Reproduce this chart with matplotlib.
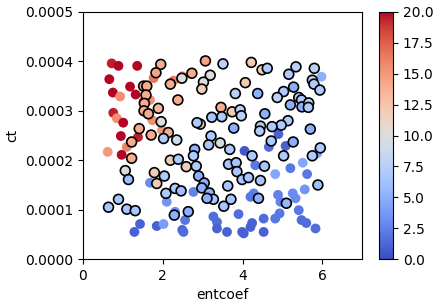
import numpy as np
import matplotlib
matplotlib.use("Agg")
import matplotlib.pyplot as plt

# points drawn without edge
x_plain = [0.72, 0.89, 1.36, 0.66, 1.18, 0.75, 0.93, 1.32, 1.52, 0.76, 0.85, 1.01,
           0.95, 1.38, 1.10, 0.97, 0.62, 1.77, 2.27, 2.49, 1.68, 1.74, 1.98,
           1.68, 2.10, 2.31, 1.43, 1.29, 1.85, 2.02, 2.49, 2.77, 2.56, 2.52, 3.27,
           3.36, 3.36, 3.61, 3.90, 4.03, 4.20, 4.24, 4.53, 4.53, 4.82, 4.93, 5.41,
           5.48, 5.60, 5.83, 3.99, 4.05, 4.32, 4.66, 4.90, 5.08, 5.98, 5.87, 5.51,
           5.20, 4.82, 5.62, 5.56, 4.89, 5.26, 5.33, 4.95, 4.28, 4.20]
y_plain = [3.96e-4, 3.91e-4, 3.91e-4, 3.64e-4, 3.49e-4, 3.37e-4, 3.29e-4, 3.33e-4,
           3.18e-4, 2.96e-4, 2.85e-4, 2.76e-4, 2.49e-4, 2.47e-4, 2.27e-4, 2.11e-4,
           2.17e-4, 3.66e-4, 3.61e-4, 3.70e-4, 3.22e-4, 2.81e-4, 2.61e-4,
           1.545e-4, 1.16e-4, 0.957e-4, 0.71e-4, 0.55e-4, 0.67e-4, 0.71e-4, 0.59e-4,
           1.36e-4, 0.79e-4, 0.55e-4, 0.86e-4, 0.75e-4, 0.62e-4, 0.55e-4, 0.91e-4,
           0.52e-4, 0.65e-4, 0.73e-4, 0.82e-4, 0.55e-4, 0.82e-4, 0.925e-4, 0.99e-4,
           0.79e-4, 0.73e-4, 0.62e-4, 0.55e-4, 2.19e-4, 1.90e-4, 2.27e-4, 2.53e-4,
           2.29e-4, 3.69e-4, 2.14e-4, 1.95e-4, 1.84e-4, 1.72e-4, 1.72e-4, 1.41e-4,
           1.30e-4, 1.33e-4, 1.23e-4, 1.16e-4, 1.33e-4, 1.26e-4]
c_plain = [19.5, 20, 20, 20, 20, 20, 15.5, 20, 20, 19.5, 15.5, 20,
           20, 19.5, 16, 20, 15, 16.5, 16.5, 15.5, 15.5, 15.5, 15,
           3, 3.5, 3, 1, 1, 1, 4, 1, 2.5, 2, 1.5, 1.5,
           1.5, 1, 1, 1.5, 1, 1, 1, 1.5, 1, 2, 2, 2,
           1.5, 1.5, 1.5, 1, 0.5, 2, 1.5, 1, 1, 5, 4, 4.5,
           2, 4.5, 2, 3.5, 2.5, 3, 3, 2.5, 2.5, 2]

# points drawn with black edge
x_edge = [1.95, 1.83, 2.19, 2.48, 1.52, 1.60, 1.58, 2.38, 1.54, 1.53, 1.64, 1.89,
          1.96, 1.41, 1.71, 2.14, 2.02, 2.35, 1.22, 1.22, 2.19, 3.07, 3.51, 4.22,
          2.73, 3.19, 3.02, 2.98, 4.49, 4.62, 4.07, 3.82, 4.38, 3.46, 3.74, 3.94,
          3.97, 3.48, 3.23, 4.56, 2.94, 2.86, 3.78, 4.45, 4.43, 3.21, 3.15, 3.44,
          3.68, 2.80, 2.77, 4.24, 5.34, 5.16, 5.80, 5.75, 5.79, 5.94, 5.28, 5.03,
          4.87, 5.41, 5.48, 5.20, 5.49, 5.66, 5.65, 5.14, 4.97, 4.74, 5.70, 4.72,
          5.27, 5.03, 5.95, 5.75, 1.06, 1.14, 1.79, 1.85, 2.04, 2.39, 2.59, 2.84,
          2.31, 2.46, 2.08, 0.64, 0.89, 1.10, 1.31, 2.29, 2.90, 3.04, 2.98, 3.17,
          3.27, 3.11, 3.53, 3.71, 3.63, 3.65, 3.84, 3.86, 3.99, 4.15, 4.55, 4.45,
          4.40, 2.64, 5.89, 5.10]
y_edge = [3.94e-4, 3.77e-4, 3.54e-4, 3.66e-4, 3.50e-4, 3.50e-4, 3.32e-4, 3.22e-4,
          3.15e-4, 3.00e-4, 2.94e-4, 3.05e-4, 2.78e-4, 2.64e-4, 2.51e-4, 2.56e-4,
          2.44e-4, 2.41e-4, 2.37e-4, 2.04e-4, 2.00e-4, 4.01e-4, 3.95e-4, 3.98e-4,
          3.76e-4, 3.72e-4, 3.58e-4, 3.44e-4, 3.83e-4, 3.86e-4, 3.57e-4, 3.35e-4,
          3.35e-4, 3.07e-4, 2.98e-4, 3.02e-4, 2.90e-4, 2.88e-4, 2.87e-4, 2.94e-4,
          2.73e-4, 2.76e-4, 2.65e-4, 2.69e-4, 2.59e-4, 2.49e-4, 2.31e-4, 2.35e-4,
          2.22e-4, 2.22e-4, 2.09e-4, 2.09e-4, 3.89e-4, 3.74e-4, 3.86e-4, 3.62e-4,
          3.54e-4, 3.42e-4, 3.48e-4, 3.39e-4, 3.27e-4, 3.27e-4, 3.22e-4, 3.12e-4,
          3.08e-4, 3.16e-4, 3.07e-4, 2.80e-4, 2.71e-4, 2.68e-4, 2.63e-4, 2.39e-4,
          2.37e-4, 2.09e-4, 2.25e-4, 2.09e-4, 1.79e-4, 1.61e-4, 1.75e-4, 1.53e-4,
          1.68e-4, 2.02e-4, 1.87e-4, 1.88e-4, 1.43e-4, 1.38e-4, 1.33e-4, 1.05e-4,
          1.21e-4, 1.01e-4, 0.98e-4, 0.89e-4, 1.68e-4, 1.54e-4, 1.44e-4, 1.34e-4,
          1.21e-4, 1.23e-4, 1.07e-4, 1.21e-4, 1.48e-4, 1.92e-4, 1.95e-4, 1.77e-4,
          1.61e-4, 1.65e-4, 1.88e-4, 1.59e-4, 1.23e-4, 0.96e-4, 1.50e-4, 1.13e-4]
c_edge = [14, 14.5, 14, 10, 14, 14, 14, 14, 14, 14, 14, 13.5,
          10, 14, 14, 14, 7, 9, 14, 14, 12, 14.5, 7.5, 12,
          14, 10, 10, 12, 12, 7, 12, 7.5, 5, 14, 12, 7.5,
          7.5, 7, 6.5, 5, 12, 7, 5, 7, 7, 7, 6.5, 9.5,
          7, 5, 7, 7, 7.5, 7, 7.5, 7.5, 7, 7, 5, 7,
          7.5, 7, 7, 5, 5, 7.5, 7, 7, 7, 7, 5, 7,
          5, 7, 7, 7, 9.5, 6, 12, 12, 7, 7, 12, 7,
          7, 6, 7, 6.5, 6.5, 6.5, 6.5, 5, 5, 5, 5, 5,
          6.5, 5, 6.5, 6.5, 6.5, 6.5, 6.5, 6.5, 6.5, 6.5, 6.5, 6.5,
          5, 5, 6, 5.5]

fig = plt.figure(figsize=(4.39, 3.07), dpi=100)
ax = fig.add_axes([0.189, 0.156, 0.636, 0.805])
cax = fig.add_axes([0.8633, 0.156, 0.0319, 0.805])

ax.scatter(x_plain, y_plain, c=c_plain, cmap='coolwarm', vmin=0, vmax=20,
           s=50, edgecolors='none')
sc = ax.scatter(x_edge, y_edge, c=c_edge, cmap='coolwarm', vmin=0, vmax=20,
                s=50, edgecolors='black', linewidths=1.2)

ax.set_xlim(0, 7)
ax.set_ylim(0, 0.0005)
ax.set_xlabel('entcoef')
ax.set_ylabel('ct')

fig.colorbar(sc, cax=cax)

fig.savefig('out.png', dpi=100)
